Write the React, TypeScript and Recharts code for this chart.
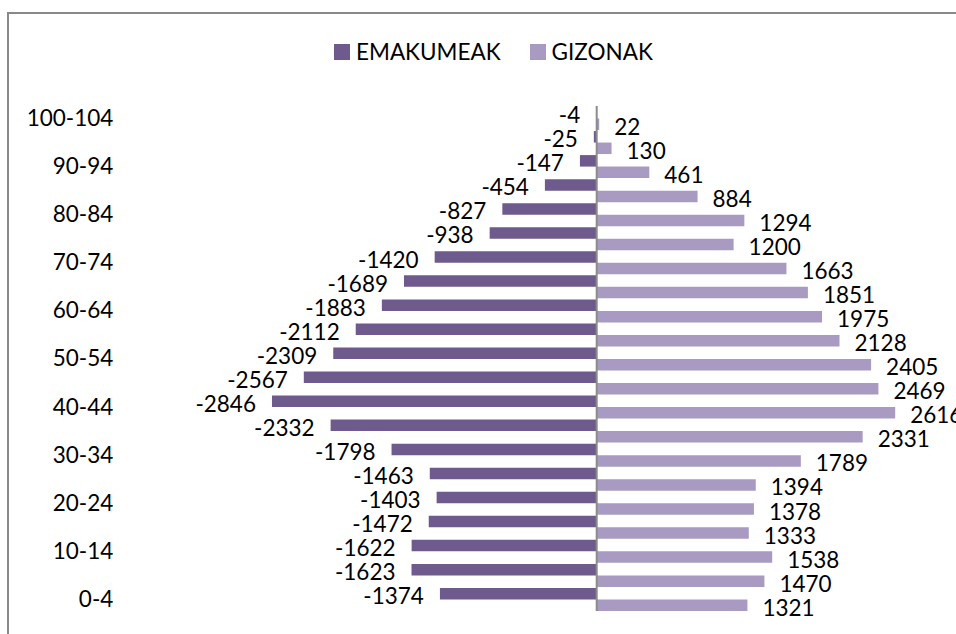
import React from 'react';
import { BarChart, Bar, XAxis, YAxis, ReferenceLine, Legend, LabelList } from 'recharts';

const ageGroups = [
  '0-4', '5-9', '10-14', '15-19', '20-24', '25-29', '30-34', '35-39', '40-44', '45-49',
  '50-54', '55-59', '60-64', '65-69', '70-74', '75-79', '80-84', '85-89', '90-94', '95-99', '100-104',
];
const emakumeak = [
  -1374, -1623, -1622, -1472, -1403, -1463, -1798, -2332, -2846, -2567,
  -2309, -2112, -1883, -1689, -1420, -938, -827, -454, -147, -25, -4,
];
const gizonak = [
  1321, 1470, 1538, 1333, 1378, 1394, 1789, 2331, 2616, 2469,
  2405, 2128, 1975, 1851, 1663, 1200, 1294, 884, 461, 130, 22,
];
const seriesNames = ['EMAKUMEAK', 'GIZONAK'];
const seriesColors = ['#6F5A8E', '#A99AC1'];
const xDomain = [-4000, 3000];

const data = ageGroups.map((g, i) => ({ group: g, emakumeak: emakumeak[i], gizonak: gizonak[i] }));

const FONT = 'Lato, "Open Sans", sans-serif';
const FS = 22.5;

const NegLabel = (props: any) => {
  const { x, y, width, height, value } = props;
  const left = Math.min(Number(x), Number(x) + Number(width));
  return (
    <text x={left - 16} y={Number(y) + Number(height) / 2 + 2} textAnchor="end" dominantBaseline="central"
      fontFamily={FONT} fontSize={FS} fill="#000">{value}</text>
  );
};

const PosLabel = (props: any) => {
  const { x, y, width, height, value } = props;
  const right = Math.max(Number(x), Number(x) + Number(width));
  return (
    <text x={right + 15} y={Number(y) + Number(height) / 2 + 2} textAnchor="start" dominantBaseline="central"
      fontFamily={FONT} fontSize={FS} fill="#000">{value}</text>
  );
};

const renderLegend = () => (
  <div style={{ display: 'flex', alignItems: 'center', fontFamily: FONT, fontSize: FS, lineHeight: '28px', color: '#000' }}>
    {seriesNames.map((n, i) => (
      <div key={n} style={{ display: 'flex', alignItems: 'center', marginRight: 29 }}>
        <span style={{ display: 'inline-block', width: 16, height: 16, background: seriesColors[i], marginRight: 6 }} />
        <span>{n}</span>
      </div>
    ))}
  </div>
);

export default function App() {
  return (
    <div style={{ position: 'fixed', left: 0, top: 0, width: 956, height: 634, background: '#fff', fontFamily: FONT, overflow: 'hidden' }}>
      <div style={{ position: 'absolute', left: 7, top: 12, width: 949, height: 622, borderLeft: '2px solid #898989', borderTop: '2px solid #898989', boxSizing: 'border-box' }} />
      <div style={{ position: 'absolute', left: 0, top: 0 }}>
        <BarChart width={956} height={634} data={data} layout="vertical"
          margin={{ top: 106, right: 17, bottom: 23, left: 10.3 }} barGap={0} barSize={11.5}>
          <XAxis type="number" domain={xDomain} hide allowDataOverflow />
          <YAxis type="category" dataKey="group" reversed interval={1} width={130}
            tickLine={false} axisLine={false} tickSize={0} tickMargin={27}
            tick={{ fill: '#000', fontSize: FS, fontFamily: FONT }} />
          <Legend layout="horizontal" verticalAlign="middle" align="center" content={renderLegend}
            wrapperStyle={{ top: 38, left: 334, width: 420, height: 28 }} />
          <Bar dataKey="emakumeak" name={seriesNames[0]} fill={seriesColors[0]} isAnimationActive={false}>
            <LabelList dataKey="emakumeak" content={NegLabel} />
          </Bar>
          <Bar dataKey="gizonak" name={seriesNames[1]} fill={seriesColors[1]} isAnimationActive={false}>
            <LabelList dataKey="gizonak" content={PosLabel} />
          </Bar>
          <ReferenceLine x={0} stroke="#8B8B8B" strokeWidth={2} ifOverflow="visible" />
        </BarChart>
      </div>
    </div>
  );
}
